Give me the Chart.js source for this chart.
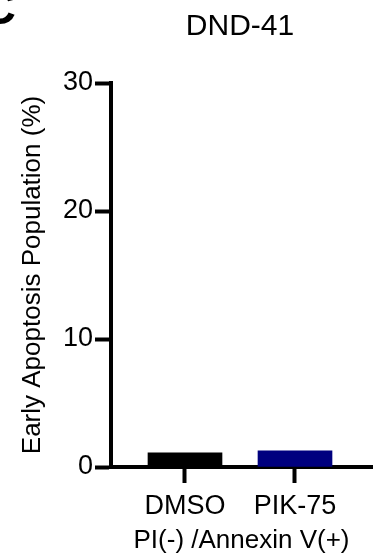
<!DOCTYPE html>
<html>
<head>
<meta charset="utf-8">
<script src="https://cdn.jsdelivr.net/npm/chart.js@4/dist/chart.umd.min.js"></script>
<style>
  html, body { margin: 0; padding: 0; background: #fff; }
  #wrap { width: 379px; height: 559px; position: relative; }
</style>
</head>
<body>
<div id="wrap"><canvas id="grafico"></canvas></div>
<script>
// datos del grafico
let categorias = ['DMSO', 'PIK-75'];
let valores = [1.1, 1.27];
let colores = ['#000000', '#00007f'];
let ticks_y = [0, 10, 20, 30];
let titulo = 'DND-41';
let titulo_y = 'Early Apoptosis Population (%)';
let titulo_x = 'PI(-) /Annexin V(+)';

const fuente = "'Liberation Sans', Arial, sans-serif";

// titulo y letra del panel
let textoExtra = {
    id: 'textoExtra',
    afterDraw: (chart) => {
        let ctx = chart.ctx;
        ctx.save();
        ctx.fillStyle = '#000';
        ctx.textAlign = 'center';
        ctx.textBaseline = 'middle';
        ctx.font = '30px ' + fuente;
        ctx.fillText(titulo, 240, 27);
        ctx.font = 'bold 48px ' + fuente;
        ctx.textAlign = 'right';
        ctx.textBaseline = 'alphabetic';
        ctx.fillText('C', 16, 24);
        ctx.restore();
    }
};

let mybar = new Chart(document.getElementById('grafico'), {
    type: 'bar',
    data: {
        datasets: [{
            data: categorias.map((c, i) => ({ x: i, y: valores[i] })),
            backgroundColor: colores,
            borderWidth: 0,
            barThickness: 74
        }]
    },
    options: {
        responsive: true,
        maintainAspectRatio: false,
        animation: false,
        layout: { padding: { top: 83, right: 7, left: 17, bottom: 0 } },
        plugins: { legend: { display: false }, tooltip: { enabled: false }, title: { display: false } },
        scales: {
            x: {
                type: 'linear',
                offset: false,
                min: -0.6727,
                max: 1.7,
                afterBuildTicks: (s) => { s.ticks = categorias.map((c, i) => ({ value: i })); },
                afterFit: (s) => { s.height = 92; },
                ticks: {
                    callback: (v) => categorias[v],
                    color: '#000',
                    font: { family: fuente, size: 27 },
                    padding: 7,
                    maxRotation: 0,
                    autoSkip: false
                },
                grid: { offset: false, drawOnChartArea: false, drawTicks: true, tickLength: 16, tickWidth: 4, color: '#000' },
                border: { display: true, color: '#000', width: 4 },
                title: {
                    display: true, text: titulo_x, color: '#000',
                    font: { family: fuente, size: 26 }, padding: { top: 0, bottom: 3 }
                }
            },
            y: {
                min: 0,
                max: 30,
                afterBuildTicks: (s) => { s.ticks = ticks_y.map(v => ({ value: v })); },
                afterFit: (s) => { s.width = 94; },
                ticks: {
                    color: '#000',
                    font: { family: fuente, size: 27 },
                    padding: 2
                },
                grid: { drawOnChartArea: false, drawTicks: true, tickLength: 16, tickWidth: 4, color: '#000' },
                border: { display: true, color: '#000', width: 4 },
                title: {
                    display: true, text: titulo_y, color: '#000',
                    font: { family: fuente, size: 26 }, padding: { top: 0, bottom: 0 }
                }
            }
        }
    },
    plugins: [textoExtra]
});
</script>
</body>
</html>
